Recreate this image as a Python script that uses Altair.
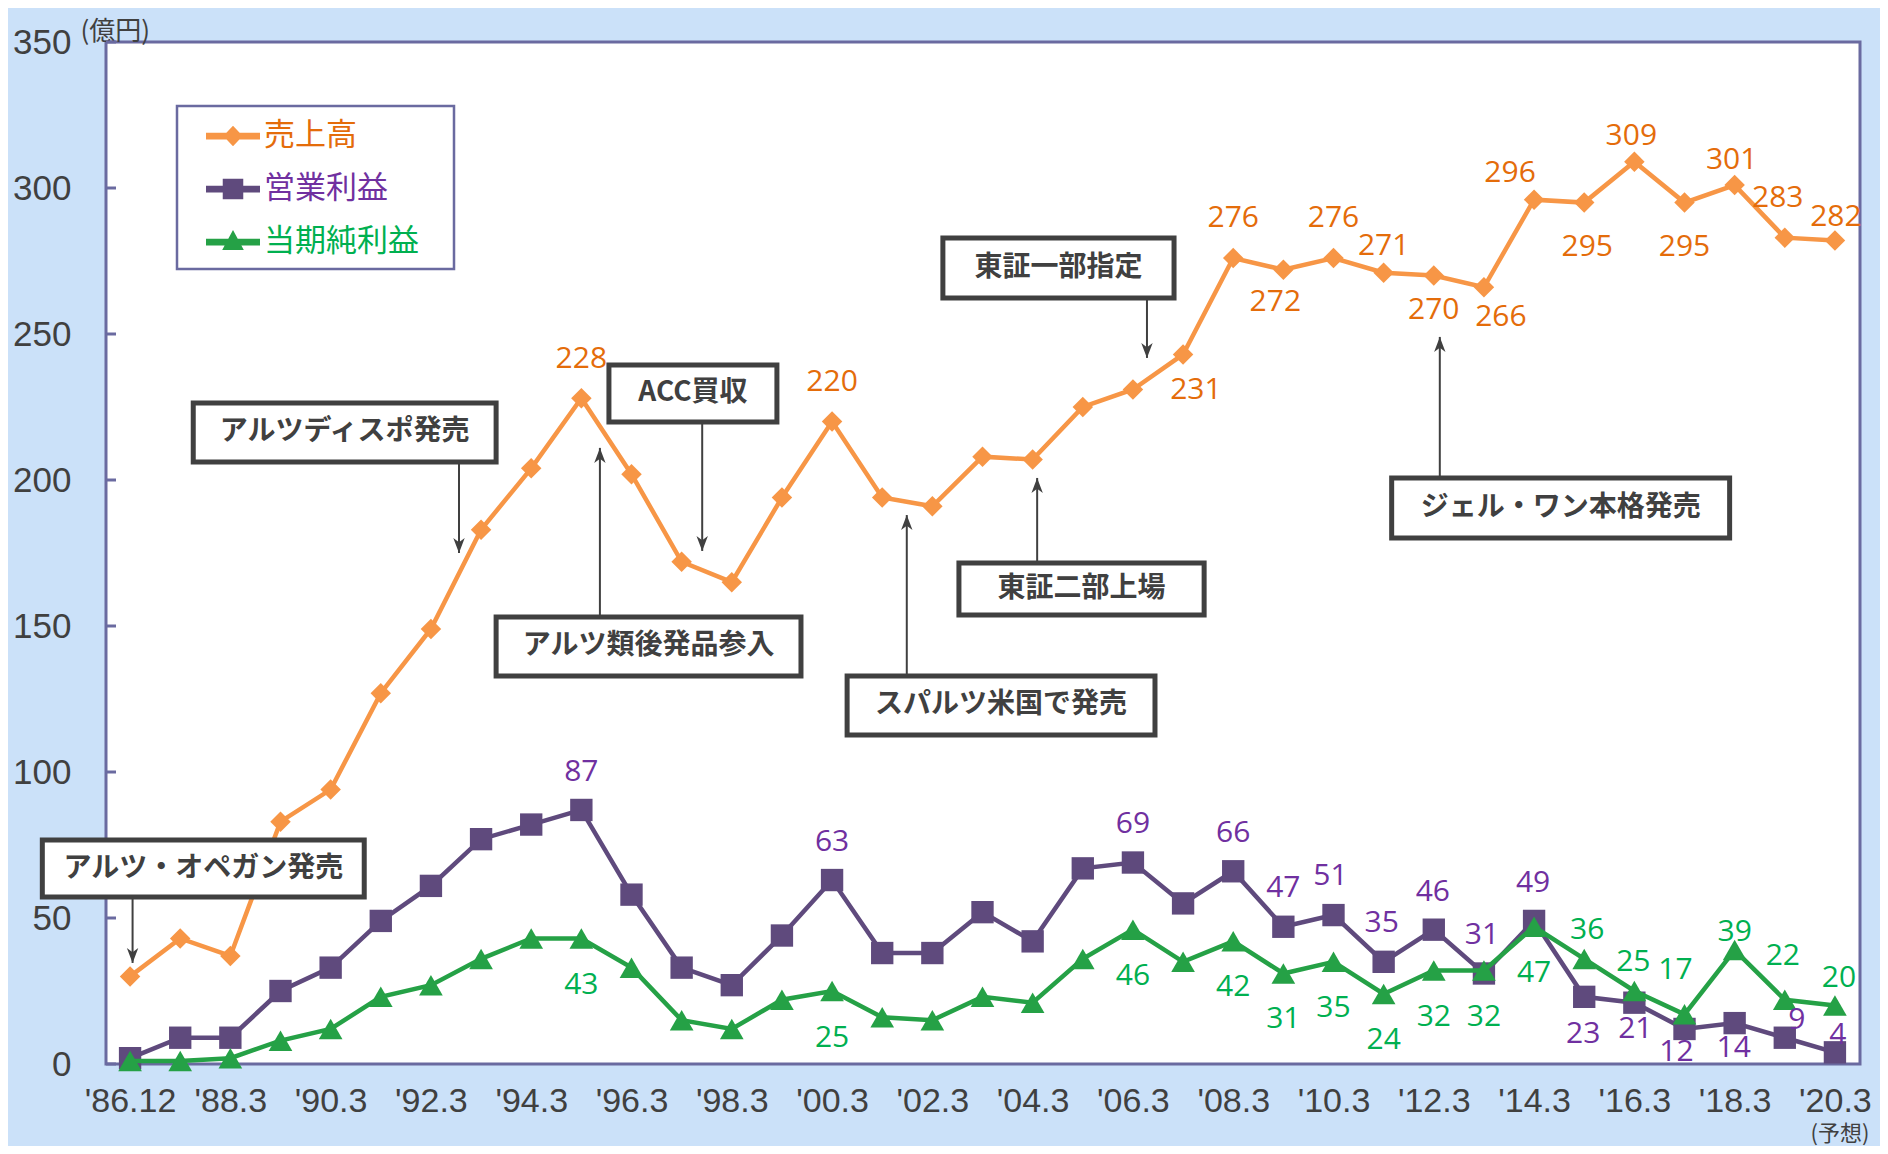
import json
import altair as alt
import pandas as pd

# ---------------- data ----------------
periods = ["'86.12", "'87.12", "'88.3", "'89.3", "'90.3", "'91.3", "'92.3", "'93.3", "'94.3", "'95.3",
           "'96.3", "'97.3", "'98.3", "'99.3", "'00.3", "'01.3", "'02.3", "'03.3", "'04.3", "'05.3",
           "'06.3", "'07.3", "'08.3", "'09.3", "'10.3", "'11.3", "'12.3", "'13.3", "'14.3", "'15.3",
           "'16.3", "'17.3", "'18.3", "'19.3", "'20.3"]
tick_idx = list(range(0, 35, 2))
y_ticks = [0, 50, 100, 150, 200, 250, 300, 350]
series_names = ["売上高", "営業利益", "当期純利益"]

sales = [30, 43, 37, 83, 94, 127, 149, 183, 204, 228, 202, 172, 165, 194, 220, 194, 191, 208, 207, 225,
         231, 243, 276, 272, 276, 271, 270, 266, 296, 295, 309, 295, 301, 283, 282]
op_profit = [2, 9, 9, 25, 33, 49, 61, 77, 82, 87, 58, 33, 27, 44, 63, 38, 38, 52, 42, 67,
             69, 55, 66, 47, 51, 35, 46, 31, 49, 23, 21, 12, 14, 9, 4]
net_profit = [1, 1, 2, 8, 12, 23, 27, 36, 43, 43, 33, 15, 12, 22, 25, 16, 15, 23, 21, 36,
              46, 35, 42, 31, 35, 24, 32, 32, 47, 36, 25, 17, 39, 22, 20]

sales_label_idx = [9, 14, 20, 22, 23, 24, 25, 26, 27, 28, 29, 30, 31, 32, 33, 34]
op_label_idx = [9, 14, 20, 22, 23, 24, 25, 26, 27, 28, 29, 30, 31, 32, 33, 34]
net_label_idx = [9, 14, 20, 22, 23, 24, 25, 26, 27, 28, 29, 30, 31, 32, 33, 34]

# ---------------- layout ----------------
W, H = 1754, 1022
X_DOM = [-0.48, 34.5]
STEP = W / (X_DOM[1] - X_DOM[0])
YPX = H / 350.0

# label offsets in pixels (dx, dy) from their point
sales_label_off = [(0, -39), (0, -40), (63, 1), (0, -40), (-8, 32), (0, -40), (0, -27), (0, 34),
                   (17, 30), (-24, -27), (3, 44), (-3, -26), (0, 44), (-3, -25), (-7, -40), (1, -24)]
op_label_off = [(0, -38), (0, -38), (0, -39), (0, -38), (0, -39), (-3, -39), (-2, -39), (-1, -38),
                (-2, -38), (-1, -38), (-1, 37), (1, 26), (-8, 23), (-1, 25), (12, -18), (3, -17)]
net_label_off = [(0, 47), (0, 47), (0, 46), (0, 46), (0, 46), (0, 46), (0, 46), (0, 46),
                 (0, 46), (0, 46), (3, -29), (-1, -29), (-9, -44), (0, -18), (-2, -44), (4, -28)]

# annotation call-outs (data coordinates)
ann_text = ["アルツ・オペガン発売", "アルツディスポ発売", "アルツ類後発品参入", "ACC買収",
            "スパルツ米国で発売", "東証二部上場", "東証一部指定", "ジェル・ワン本格発売"]
box_x1 = [-1.75, 1.26, 7.30, 9.55, 14.30, 16.53, 16.21, 25.16]
box_x2 = [4.67, 7.30, 13.38, 12.90, 20.44, 21.42, 20.82, 31.90]
box_top = [76.7, 226.4, 153.1, 239.4, 132.9, 171.6, 282.9, 200.7]
box_bot = [57.2, 206.2, 132.9, 219.9, 112.7, 153.8, 262.3, 180.1]
arrow_x = [0.05, 6.56, 9.37, 11.41, 15.49, 18.09, 20.28, 26.12]
arrow_tip = [34.6, 175.0, 211.0, 175.7, 188.0, 200.7, 241.8, 249.0]
arrow_dir = ["down", "down", "up", "down", "up", "up", "down", "up"]

BG = "#cbe1f9"
BORDER = "#6a6aa0"
GREY = "#404040"
line_colors = ["#f79646", "#5f4a7d", "#25a146"]
text_colors = ["#e46c0a", "#7030a0", "#00b050"]
shapes = ["diamond", "square", "triangle-up"]
sizes = [420, 500, 560]
NUM_FONT = "Open Sans"
JP_FONT = "Noto Sans CJK JP"

legend_paths = [
    "M-1,-0.125L1,-0.125L1,0.125L-1,0.125Z M0,-0.38L0.36,0L0,0.38L-0.36,0Z",
    "M-1,-0.125L1,-0.125L1,0.125L-1,0.125Z M-0.38,-0.38L0.38,-0.38L0.38,0.38L-0.38,0.38Z",
    "M-1,-0.125L1,-0.125L1,0.125L-1,0.125Z M0,-0.44L0.4,0.3L-0.4,0.3Z",
]
arrow_head = "M0,0L-0.38,-1L0,-0.72L0.38,-1Z"

# ---------------- frames ----------------
values = [sales, op_profit, net_profit]
label_idx = [sales_label_idx, op_label_idx, net_label_idx]
label_off = [sales_label_off, op_label_off, net_label_off]

xs = alt.Scale(domain=X_DOM, nice=False, zero=False)
ys = alt.Scale(domain=[0, 350], nice=False, zero=False)
x_axis = alt.Axis(values=tick_idx, labelExpr=json.dumps(periods) + "[datum.value]",
                  domain=False, ticks=False, grid=False, labelFont="Liberation Sans",
                  labelFontSize=34, labelColor=GREY, labelPadding=20, labelFlush=False,
                  labelOverlap=False, labelBound=False, title=None)
y_axis = alt.Axis(values=y_ticks, domain=False, ticks=False, grid=False, labelFont="Liberation Sans",
                  labelFontSize=35, labelColor=GREY, labelPadding=35, labelFlush=False,
                  title="(億円)", titleAngle=0, titleAlign="left", titleBaseline="middle",
                  titleX=-26, titleY=-11, titleFont=JP_FONT, titleFontSize=26,
                  titleFontWeight="normal", titleColor=GREY)


def X(f):
    return alt.X(f, type="quantitative", scale=xs, axis=x_axis)


def Y(f):
    return alt.Y(f, type="quantitative", scale=ys, axis=y_axis)


rows = []
for name, vals in zip(series_names, values):
    for i, v in enumerate(vals):
        rows.append({"series": name, "idx": i, "period": periods[i], "value": v})
df = pd.DataFrame(rows)

layers = []

# inward y ticks
layers.append(
    alt.Chart(pd.DataFrame({"v": y_ticks})).mark_rule(color=BORDER, strokeWidth=3).encode(
        y=Y("v"), x=alt.value(0), x2=alt.value(10))
)

# legend frame
layers.append(
    alt.Chart(pd.DataFrame({"a": [0]})).mark_rect(fill="white", stroke=BORDER, strokeWidth=2.5).encode(
        x=alt.value(71), x2=alt.value(348), y=alt.value(64), y2=alt.value(227))
)

# series (purple, green first, then orange)
for k in [1, 2, 0]:
    sub = df[df.series == series_names[k]]
    base = alt.Chart(sub)
    layers.append(base.mark_line(color=line_colors[k], strokeWidth=4.5).encode(x=X("idx"), y=Y("value")))
    layers.append(base.mark_point(filled=True, opacity=1, color=line_colors[k], shape=shapes[k],
                                  size=sizes[k]).encode(x=X("idx"), y=Y("value")))

# data labels
for k in range(3):
    lab = []
    for i, (dx, dy) in zip(label_idx[k], label_off[k]):
        v = values[k][i]
        lab.append({"lx": i + dx / STEP, "ly": v - dy / YPX, "t": str(v)})
    layers.append(
        alt.Chart(pd.DataFrame(lab)).mark_text(font=NUM_FONT, fontSize=30, color=text_colors[k],
                                               baseline="middle", align="center").encode(
            x=X("lx"), y=Y("ly"), text="t:N")
    )

# annotations
ann = pd.DataFrame({"text": ann_text, "x1": box_x1, "x2": box_x2, "ytop": box_top, "ybot": box_bot,
                    "ax": arrow_x, "tip": arrow_tip, "dir": arrow_dir})
ann["cx"] = (ann.x1 + ann.x2) / 2
ann["cy"] = (ann.ytop + ann.ybot) / 2
ann["start"] = [b if d == "down" else t for b, t, d in zip(ann.ybot, ann.ytop, ann.dir)]
ann["ang"] = [0 if d == "down" else 180 for d in ann.dir]

abase = alt.Chart(ann)
layers.append(abase.mark_rule(color=GREY, strokeWidth=2).encode(x=X("ax"), y=Y("start"), y2="tip"))
layers.append(abase.mark_point(filled=True, opacity=1, color=GREY, shape=arrow_head, size=900).encode(
    x=X("ax"), y=Y("tip"), angle=alt.Angle("ang:Q", scale=None)))
layers.append(abase.mark_rect(fill="white", stroke=GREY, strokeWidth=5).encode(
    x=X("x1"), x2="x2", y=Y("ytop"), y2="ybot"))
layers.append(abase.mark_text(font=JP_FONT, fontSize=28, fontWeight="bold", color=GREY,
                              baseline="middle", align="center").encode(
    x=X("cx"), y=Y("cy"), text="text:N"))

# (予想)
layers.append(
    alt.Chart(pd.DataFrame({"idx": [34], "t": ["(予想)"]})).mark_text(
        font=JP_FONT, fontSize=22, color=GREY, dx=5, baseline="middle").encode(
        x=X("idx"), y=alt.value(1092), text="t:N")
)

# legend (only entries, from a layer without rows)
leg = alt.Legend(orient="none", legendX=100, legendY=67, title=None, symbolSize=2916,
                 labelFont=JP_FONT, labelFontSize=31, labelOffset=4, rowPadding=11, padding=0,
                 symbolStrokeWidth=0, labelLimit=0,
                 labelColor={"expr": "datum.label == '売上高' ? '#e46c0a' : datum.label == '営業利益' ? '#7030a0' : '#00b050'"})
layers.append(
    alt.Chart(df).transform_filter("false").mark_point(filled=True, opacity=1).encode(
        x=X("idx"), y=Y("value"),
        color=alt.Color("series:N", scale=alt.Scale(domain=series_names, range=line_colors), legend=leg),
        shape=alt.Shape("series:N", scale=alt.Scale(domain=series_names, range=legend_paths), legend=leg))
)

chart = alt.layer(*layers).properties(
    width=W, height=H,
    padding={"left": 98, "top": 34, "right": 20, "bottom": 82},
    autosize=alt.AutoSizeParams(type="none"),
    background=BG,
).configure_view(stroke=BORDER, strokeWidth=3, fill="white")

chart.save("out.html", embed_options={"renderer": "svg", "actions": False})
